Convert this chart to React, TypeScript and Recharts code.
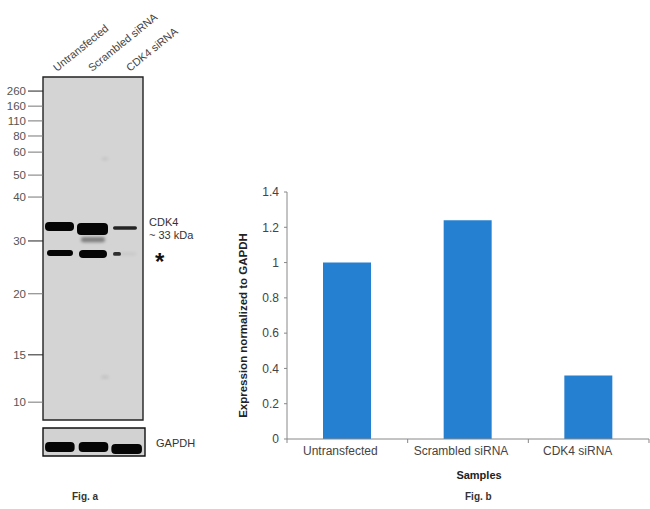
import React from 'react';
import { BarChart, Bar, ComposedChart, Scatter, ReferenceArea, XAxis, YAxis } from 'recharts';

const FONT = '"Liberation Sans", Arial, sans-serif';

// Fig. b
const samples = ['Untransfected', 'Scrambled siRNA', 'CDK4 siRNA'];
const expression = [1, 1.24, 0.36];
const expressionTicks = [0, 0.2, 0.4, 0.6, 0.8, 1, 1.2, 1.4];

// Fig. a, ladder: kDa and how far it ran (% of the membrane height)
const ladderKda = [260, 160, 110, 80, 60, 50, 40, 30, 20, 15, 10];
const ladderMigration = [4.1, 8.5, 12.8, 17.2, 21.9, 28.6, 35, 47.8, 63.2, 81, 94.8];
const darkMarkers = [260, 30, 15];

// Fig. a, lanes: where the slanted names start (% of membrane width)
const laneLabelAt = [14, 49, 87];

// Fig. a, bands on the main membrane
const bandX = [16.5, 49.5, 82, 50, 17, 50, 74, 85, 62, 62];
const bandY = [43.6, 44.3, 44, 47.4, 51.3, 51.6, 51.6, 51.6, 23.9, 87.5];
const bandSpan = [29, 31, 24, 24, 26, 28, 8, 16, 6, 7];
const bandThickness = [2.6, 3.5, 1, 1.5, 1.75, 2.3, 1.1, 0.8, 0.8, 0.8];
const bandDensity = [1, 1, 0.85, 0.42, 1, 1, 0.8, 0.06, 0.08, 0.1];

// Fig. a, GAPDH loading control
const gapdhX = [16.5, 49.5, 82];
const gapdhY = [68, 68, 75];
const gapdhSpan = [29, 29, 30];
const gapdhThickness = [36, 36, 36];
const gapdhDensity = [1, 1, 1];

const toBands = (xs: number[], ys: number[], spans: number[], thick: number[], dens: number[]) =>
  xs.map((x, i) => ({ x, y: ys[i], span: spans[i], thickness: thick[i], density: dens[i] }));

const bands = toBands(bandX, bandY, bandSpan, bandThickness, bandDensity);
const gapdhBands = toBands(gapdhX, gapdhY, gapdhSpan, gapdhThickness, gapdhDensity);
const barData = samples.map((name, i) => ({ name, value: expression[i] }));

const bandShape = (pxX: number, pxY: number) => (props: any) => {
  const { cx, cy, payload } = props;
  const w = payload.span * pxX;
  const h = payload.thickness * pxY;
  return (
    <rect
      x={cx - w / 2}
      y={cy - h / 2}
      width={w}
      height={h}
      rx={Math.min(h / 2, 4)}
      fill="#050505"
      fillOpacity={payload.density}
      style={{ filter: payload.density < 0.5 ? 'blur(1.4px)' : 'blur(0.7px)' }}
    />
  );
};

const LaneTick = (props: any) => {
  const { x, index } = props;
  return (
    <text
      x={x}
      y={72}
      transform={`rotate(-39 ${x} 72)`}
      fontSize={10.8}
      fontFamily={FONT}
      fill="#444"
    >
      {samples[index]}
    </text>
  );
};

const LadderTick = (props: any) => {
  const { y, index } = props;
  const kda = ladderKda[index];
  return (
    <g>
      <line x1={28} x2={43} y1={y} y2={y} stroke={darkMarkers.includes(kda) ? '#222' : '#777'} strokeWidth={1} />
      <text x={26} y={y + 4} textAnchor="end" fontSize={11.5} fontFamily={FONT} fill="#555">
        {kda}
      </text>
    </g>
  );
};

const labelShift = [-7, -7, -11];

const SampleTick = (props: any) => {
  const { x, y, index } = props;
  const half = 60.33;
  return (
    <g>
      <line x1={x - half} x2={x - half} y1={y - 8} y2={y - 4} stroke="#888" />
      {index === samples.length - 1 && <line x1={x + half} x2={x + half} y1={y - 8} y2={y - 4} stroke="#888" />}
      <text x={x + labelShift[index]} y={y + 8} textAnchor="middle" fontSize={12} fontFamily={FONT} fill="#444">
        {samples[index]}
      </text>
    </g>
  );
};

const note = (left: number, top: number, text: string, extra: React.CSSProperties = {}) => (
  <div style={{ position: 'absolute', left, top, fontFamily: FONT, fontSize: 11, lineHeight: '13px', color: '#333', whiteSpace: 'nowrap', ...extra }}>
    {text}
  </div>
);

export default function App() {
  return (
    <div style={{ position: 'absolute', left: 0, top: 0, width: 650, height: 509, background: '#fff', overflow: 'hidden' }}>
      <div style={{ position: 'absolute', left: 0, top: 0 }}>
        <ComposedChart width={210} height={424} data={bands} margin={{ top: 0, right: 67, bottom: 4, left: 0 }}>
          <XAxis
            xAxisId={0}
            type="number"
            dataKey="x"
            orientation="top"
            domain={[0, 100]}
            ticks={laneLabelAt}
            interval={0}
            height={77}
            axisLine={false}
            tickLine={false}
            tick={<LaneTick />}
          />
          <YAxis
            yAxisId={0}
            type="number"
            dataKey="y"
            reversed
            domain={[0, 100]}
            ticks={ladderMigration}
            interval={0}
            width={43}
            axisLine={false}
            tickLine={false}
            tick={<LadderTick />}
          />
          <ReferenceArea x1={0} x2={100} y1={0} y2={100} fill="#d4d4d4" fillOpacity={1} stroke="#222" strokeWidth={1.4} />
          <Scatter data={bands} isAnimationActive={false} shape={bandShape(1, 3.43)} />
        </ComposedChart>
      </div>

      <div style={{ position: 'absolute', left: 0, top: 424 }}>
        <ComposedChart width={210} height={36} data={gapdhBands} margin={{ top: 4, right: 65, bottom: 4, left: 43 }}>
          <XAxis hide type="number" dataKey="x" domain={[0, 100]} />
          <YAxis hide type="number" dataKey="y" reversed domain={[0, 100]} />
          <ReferenceArea x1={0} x2={100} y1={0} y2={100} fill="#d2d2d2" fillOpacity={1} stroke="#111" strokeWidth={1.4} />
          <Scatter data={gapdhBands} isAnimationActive={false} shape={bandShape(1.02, 0.28)} />
        </ComposedChart>
      </div>

      {note(149, 216, 'CDK4')}
      {note(149, 229, '~ 33 kDa')}
      {note(155, 250, '*', { fontSize: 24, fontWeight: 700, lineHeight: '24px', color: '#111' })}
      {note(156, 437, 'GAPDH')}
      {note(72, 490, 'Fig. a', { fontSize: 10, fontWeight: 700 })}

      <div style={{ position: 'absolute', left: 230, top: 180 }}>
        <BarChart width={420} height={329} data={barData} margin={{ top: 12, right: 1, bottom: 0, left: 0 }}>
          <XAxis
            dataKey="name"
            height={70}
            interval={0}
            stroke="#888"
            tickLine={false}
            tick={<SampleTick />}
            label={{ value: 'Samples', position: 'insideBottom', offset: 30, dx: 11, fontSize: 11, fontWeight: 700, fontFamily: FONT, fill: '#222' }}
          />
          <YAxis
            domain={[0, 1.4]}
            ticks={expressionTicks}
            interval={0}
            width={57}
            stroke="#888"
            tickSize={3}
            tick={{ fontSize: 12, fontFamily: FONT, fill: '#444' }}
            tickMargin={5}
            label={{ value: 'Expression normalized to GAPDH', angle: -90, position: 'insideLeft', offset: 13, dy: 10, dx: 0, style: { textAnchor: 'middle' }, fontSize: 11.5, fontWeight: 700, fontFamily: FONT, fill: '#222' }}
          />
          <Bar dataKey="value" barSize={48} fill="#2680d1" isAnimationActive={false} />
        </BarChart>
      </div>

      {note(465, 490, 'Fig. b', { fontSize: 10, fontWeight: 700 })}
    </div>
  );
}
